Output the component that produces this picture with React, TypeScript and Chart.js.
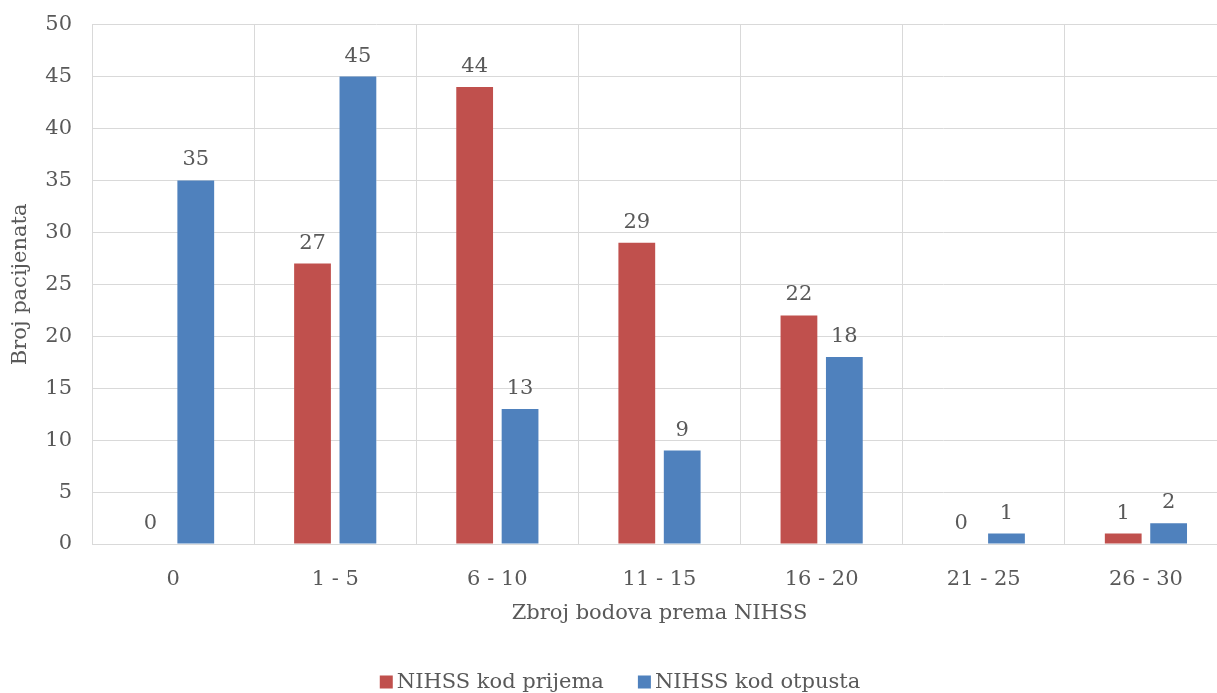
import React, { useEffect, useRef } from "react";
import { Chart, registerables } from "chart.js";

Chart.register(...registerables);

const categories = ["0", "1 - 5", "6 - 10", "11 - 15", "16 - 20", "21 - 25", "26 - 30"];
const admissionValues = [0, 27, 44, 29, 22, 0, 1];
const dischargeValues = [35, 45, 13, 9, 18, 1, 2];
const seriesNames = ["NIHSS kod prijema", "NIHSS kod otpusta"];
const seriesColors = ["#C0504D", "#4F81BD"];
const xTitle = "Zbroj bodova prema NIHSS";
const yTitle = "Broj pacijenata";

const FONT = "'DejaVu Serif', serif";
const FS = 21;
const TEXT = "#595959";
const GRID = "#D9D9D9";

const valueLabels = {
  id: "valueLabels",
  afterDatasetsDraw(chart: any) {
    const ctx = chart.ctx;
    ctx.save();
    ctx.font = `${FS}px ${FONT}`;
    ctx.fillStyle = TEXT;
    ctx.textAlign = "center";
    ctx.textBaseline = "alphabetic";
    chart.data.datasets.forEach((ds: any, i: number) => {
      const meta = chart.getDatasetMeta(i);
      meta.data.forEach((el: any, j: number) => {
        ctx.fillText(String(ds.data[j]), el.x, el.y - 15);
      });
    });
    ctx.restore();
  },
};

const bottomLegend = {
  id: "bottomLegend",
  afterDraw(chart: any) {
    const ctx = chart.ctx;
    ctx.save();
    ctx.font = `${FS}px ${FONT}`;
    const box = 13;
    const gap = 4;
    const spacing = 34;
    const widths = chart.data.datasets.map((ds: any) => ctx.measureText(ds.label).width);
    const total =
      widths.reduce((a: number, w: number) => a + box + gap + w, 0) + spacing * (widths.length - 1);
    let x = chart.width / 2 - total / 2;
    const cy = chart.chartArea.bottom + 138;
    ctx.textBaseline = "middle";
    ctx.textAlign = "left";
    chart.data.datasets.forEach((ds: any, i: number) => {
      ctx.fillStyle = ds.backgroundColor;
      ctx.fillRect(x, cy - box / 2, box, box);
      ctx.fillStyle = TEXT;
      ctx.fillText(ds.label, x + box + gap, cy + 1);
      x += box + gap + widths[i] + spacing;
    });
    ctx.restore();
  },
};

export default function App() {
  const ref = useRef<HTMLCanvasElement>(null);
  useEffect(() => {
    if (!ref.current) return;
    const chart = new Chart(ref.current, {
      type: "bar",
      data: {
        labels: categories,
        datasets: [
          {
            label: seriesNames[0],
            data: admissionValues,
            backgroundColor: seriesColors[0],
            borderWidth: 0,
            categoryPercentage: 0.56,
            barPercentage: 0.81,
          },
          {
            label: seriesNames[1],
            data: dischargeValues,
            backgroundColor: seriesColors[1],
            borderWidth: 0,
            categoryPercentage: 0.56,
            barPercentage: 0.81,
          },
        ],
      },
      options: {
        responsive: false,
        animation: false,
        devicePixelRatio: 1,
        layout: { autoPadding: false, padding: { left: 0, right: 13, top: 16, bottom: 55 } },
        plugins: {
          tooltip: { enabled: false },
          legend: { display: false },
        },
        scales: {
          x: {
            grid: { color: GRID, drawTicks: false, offset: true },
            border: { color: GRID },
            ticks: { color: TEXT, font: { family: FONT, size: FS }, padding: 23 },
            title: {
              display: true,
              text: xTitle,
              color: TEXT,
              font: { family: FONT, size: FS },
              padding: { top: 0, bottom: 12 },
            },
            afterFit: (s: any) => {
              s.height = 94;
            },
          },
          y: {
            min: 0,
            max: 50,
            ticks: { stepSize: 5, color: TEXT, font: { family: FONT, size: FS }, padding: 20 },
            grid: { color: GRID, drawTicks: false },
            border: { color: GRID },
            title: {
              display: true,
              text: yTitle,
              color: TEXT,
              font: { family: FONT, size: FS },
              padding: { top: 8, bottom: 0 },
            },
            afterFit: (s: any) => {
              s.width = 92;
            },
          },
        },
      },
      plugins: [valueLabels, bottomLegend],
    });
    return () => chart.destroy();
  }, []);
  return (
    <div
      style={{
        position: "fixed",
        left: 0,
        top: 0,
        width: 1217,
        height: 693,
        overflow: "hidden",
        background: "#fff",
      }}
    >
      <canvas
        ref={ref}
        width={1240}
        height={701}
        style={{ width: 1240, height: 701, display: "block", marginTop: -8 }}
      />
    </div>
  );
}
